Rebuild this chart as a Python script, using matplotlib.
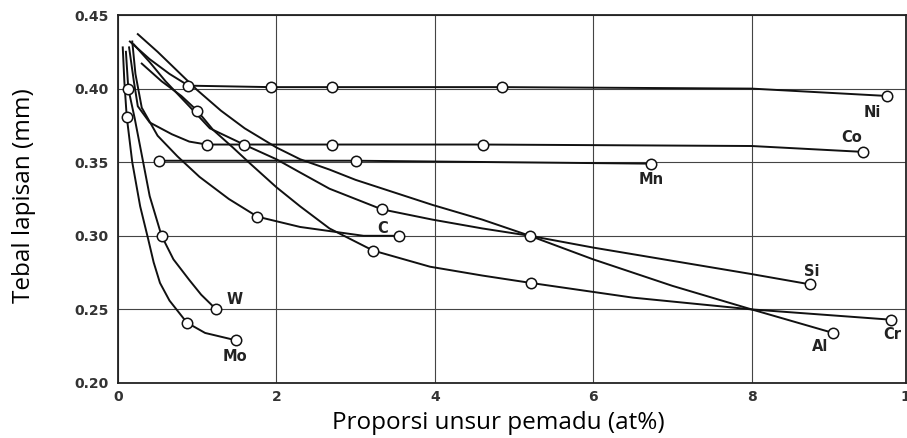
import matplotlib
matplotlib.use('Agg')
import matplotlib.pyplot as plt

# curves (x = at%, y = thickness mm); markers = circled points
ni_x = [0.15, 0.4, 0.65, 0.89, 1.93, 2.70, 4.85, 8.0, 9.71]
ni_y = [0.432, 0.42, 0.41, 0.402, 0.401, 0.401, 0.401, 0.400, 0.395]
ni_mx = [0.89, 1.93, 2.70, 4.85, 9.71]
ni_my = [0.402, 0.401, 0.401, 0.401, 0.395]

co_x = [0.14, 0.2, 0.25, 0.4, 0.68, 0.9, 1.12, 1.59, 2.70, 4.61, 8.0, 9.41]
co_y = [0.428, 0.405, 0.388, 0.377, 0.369, 0.364, 0.362, 0.362, 0.362, 0.362, 0.361, 0.357]
co_mx = [1.12, 2.70, 4.61, 9.41]
co_my = [0.362, 0.362, 0.362, 0.357]

mn_x = [0.52, 3.0, 6.73]
mn_y = [0.351, 0.351, 0.349]

c_x = [0.18, 0.22, 0.3, 0.5, 0.75, 1.03, 1.4, 1.76, 2.3, 2.7, 3.1, 3.55]
c_y = [0.432, 0.41, 0.387, 0.368, 0.354, 0.34, 0.325, 0.313, 0.306, 0.303, 0.300, 0.300]
c_mx = [1.76, 3.55]
c_my = [0.313, 0.300]

si_x = [0.2, 0.4, 0.6, 0.9, 1.16, 1.59, 2.0, 2.3, 2.67, 3.33, 3.97, 4.6, 5.2, 6.0, 7.0, 8.0, 8.74]
si_y = [0.430, 0.418, 0.405, 0.388, 0.373, 0.362, 0.352, 0.343, 0.332, 0.318, 0.311, 0.305,
        0.300, 0.292, 0.283, 0.274, 0.267]
si_mx = [1.59, 3.33, 5.2, 8.74]
si_my = [0.362, 0.318, 0.300, 0.267]

al_x = [0.25, 0.5, 0.75, 1.0, 1.3, 1.6, 2.0, 2.3, 2.67, 3.0, 3.97, 4.6, 5.2, 6.0, 7.0, 8.0, 9.03]
al_y = [0.437, 0.425, 0.412, 0.399, 0.385, 0.373, 0.36, 0.352, 0.345, 0.338, 0.321, 0.311,
        0.300, 0.284, 0.266, 0.250, 0.234]
al_mx = [9.03]
al_my = [0.234]

cr_x = [0.3, 0.55, 0.8, 1.0, 1.2, 1.45, 1.67, 2.0, 2.3, 2.67, 3.22, 3.94, 4.6, 5.21, 6.5,
        8.0, 9.76]
cr_y = [0.417, 0.405, 0.395, 0.385, 0.372, 0.36, 0.349, 0.333, 0.32, 0.305, 0.290, 0.279,
        0.273, 0.268, 0.258, 0.250, 0.243]
cr_mx = [1.0, 3.22, 5.21, 9.76]
cr_my = [0.385, 0.290, 0.268, 0.243]

w_x = [0.1, 0.13, 0.21, 0.3, 0.4, 0.55, 0.7, 0.9, 1.05, 1.24]
w_y = [0.425, 0.400, 0.38, 0.355, 0.327, 0.300, 0.284, 0.27, 0.26, 0.250]
w_mx = [0.13, 0.55, 1.24]
w_my = [0.400, 0.300, 0.250]

mo_x = [0.06, 0.08, 0.11, 0.18, 0.28, 0.38, 0.45, 0.53, 0.65, 0.87, 1.1, 1.49]
mo_y = [0.428, 0.405, 0.381, 0.35, 0.32, 0.298, 0.282, 0.268, 0.256, 0.241, 0.234, 0.229]
mo_mx = [0.11, 0.87, 1.49]
mo_my = [0.381, 0.241, 0.229]

labels = ['Ni', 'Co', 'Mn', 'C', 'Si', 'Al', 'Cr', 'W', 'Mo']
label_x = [9.53, 9.26, 6.73, 3.34, 8.76, 8.86, 9.78, 1.47, 1.48]
label_y = [0.384, 0.367, 0.338, 0.305, 0.276, 0.225, 0.233, 0.257, 0.218]

x_ticks = [0, 2, 4, 6, 8]
y_ticks = [0.20, 0.25, 0.30, 0.35, 0.40, 0.45]

fig = plt.figure(figsize=(9.07, 4.38), dpi=100)
ax = fig.add_axes([118 / 907, 55 / 438, 788 / 907, 368 / 438])
ax.set_xlim(0, 9.95)
ax.set_ylim(0.20, 0.45)

curves = [(ni_x, ni_y, ni_mx, ni_my), (co_x, co_y, co_mx, co_my),
          (mn_x, mn_y, mn_x, mn_y), (c_x, c_y, c_mx, c_my),
          (si_x, si_y, si_mx, si_my), (al_x, al_y, al_mx, al_my),
          (cr_x, cr_y, cr_mx, cr_my), (w_x, w_y, w_mx, w_my),
          (mo_x, mo_y, mo_mx, mo_my)]
for xs, ys, mx, my in curves:
    ax.plot(xs, ys, color='#111111', lw=1.4, zorder=3)
    ax.plot(mx, my, ls='none', marker='o', ms=7.5, mfc='white', mec='#111111',
            mew=1.1, zorder=4)

tick_font = dict(family='DejaVu Sans', fontweight='bold', fontsize=10, color='#333333')
lab_font = dict(family='DejaVu Sans', fontweight='bold', fontsize=10.5, color='#222222')
for name, lx, ly in zip(labels, label_x, label_y):
    ax.text(lx, ly, name, ha='center', va='center', **lab_font)

ax.set_xticks(x_ticks)
ax.set_yticks(y_ticks)
ax.set_xticklabels([str(t) for t in x_ticks], **tick_font)
ax.set_yticklabels(['%.2f' % t for t in y_ticks], **tick_font)
ax.tick_params(length=0)
ax.tick_params(axis='y', pad=7)
ax.tick_params(axis='x', pad=5)
ax.grid(True, color='#444444', lw=0.8)
ax.set_axisbelow(True)
for s in ax.spines.values():
    s.set_color('#222222')
    s.set_linewidth(1.3)
# "10" label, cut by the right edge as in the source picture
ax.annotate('10', xy=(10, 0.2), xytext=(0, -5), textcoords='offset points',
            ha='center', va='top', annotation_clip=False, **tick_font)

fig.text(498 / 907, 1 - 423 / 438, 'Proporsi unsur pemadu (at%)', ha='center', va='center',
         family='Open Sans', fontsize=17.5)
fig.text(24 / 907, 1 - 196 / 438, 'Tebal lapisan (mm)', ha='center', va='center',
         rotation=90, family='Open Sans', fontsize=17.5)

fig.savefig('out.png', dpi=100, facecolor='white')
